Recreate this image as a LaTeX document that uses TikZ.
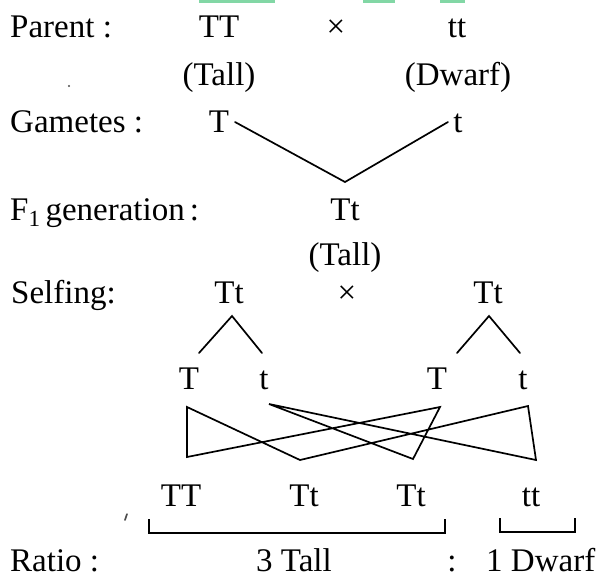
\documentclass[tikz,border=0pt]{standalone}
\usepackage{fontspec}
\setmainfont{Liberation Serif}
\definecolor{mint}{RGB}{130,215,165}
\begin{document}
\begin{tikzpicture}[x=1pt,y=-1pt,
  txt/.style={font=\fontsize{33}{38}\selectfont, inner sep=0pt, anchor=base},
  lbl/.style={txt, anchor=base west},
  link/.style={line width=1.7pt, line join=miter, line cap=round},
  brace/.style={line width=1.3pt},
  speck/.style={fill=black!70, draw=none}]
\useasboundingbox (0,0) rectangle (599,579);

% strip of highlight along the top edge
\fill[mint] (199,0) rectangle (275,3);
\fill[mint] (363,0) rectangle (395,3);
\fill[mint] (440,0) rectangle (465,3);

% parents
\node[lbl] (parent) at (10,37) {Parent :};
\node[txt] (pTT) at (219,37) {TT};
\node[txt] (cross1) at (336,37) {×};
\node[txt] (ptt) at (457,37) {tt};
\node[txt] (ptall) at (219,85) {(Tall)};
\node[txt] (pdwarf) at (458,85) {(Dwarf)};
\fill[speck] (69,86) circle (1.1);

% gametes
\node[lbl] (gam) at (10,132) {Gametes :};
\node[txt] (gT) at (219,132) {T};
\node[txt] (gt) at (458,132) {t};
\coordinate (vL) at (235,122);
\coordinate (vB) at (345,182);
\coordinate (vR) at (448,122);
\draw[link] (vL) -- (vB) -- (vR);

% F1
\node[lbl] (f1) at (10,220) {F\textsubscript{1}\hspace{0.15em}generation\hspace{0.15em}:};
\node[txt] (f1Tt) at (345,220) {Tt};
\node[txt] (f1tall) at (345,265) {(Tall)};

% selfing
\node[lbl] (self) at (11,303) {Selfing:};
\node[txt] (sA) at (229,303) {Tt};
\node[txt] (cross2) at (347,303) {×};
\node[txt] (sB) at (488,303) {Tt};

\coordinate (aTop) at (232,316);
\coordinate (aL) at (199,353);
\coordinate (aR) at (262,353);
\coordinate (bTop) at (489,316);
\coordinate (bL) at (457,353);
\coordinate (bR) at (520,353);
\draw[link] (aL) -- (aTop) -- (aR);
\draw[link] (bL) -- (bTop) -- (bR);

\node[txt] (g1) at (189,389) {T};
\node[txt] (g2) at (264,389) {t};
\node[txt] (g3) at (437,389) {T};
\node[txt] (g4) at (523,389) {t};

% crossing lines between gametes
\coordinate (A) at (187,407);
\coordinate (B) at (187,457);
\coordinate (C) at (300,460);
\coordinate (D) at (269,404);
\coordinate (E) at (440,407);
\coordinate (F) at (413,459);
\coordinate (G) at (528,406);
\coordinate (H) at (536,460);
\draw[link] (A) -- (B) -- (E) -- (F) -- (D) -- (H) -- (G) -- (C) -- cycle;

% offspring
\node[txt] (o1) at (181,506) {TT};
\node[txt] (o2) at (304,506) {Tt};
\node[txt] (o3) at (411,506) {Tt};
\node[txt] (o4) at (531,506) {tt};
\draw[line width=1.6pt, draw=black!70, line cap=round] (127,514) -- (125,520);

\coordinate (t1a) at (149,519);
\coordinate (t1b) at (445,519);
\coordinate (t2a) at (500,518);
\coordinate (t2b) at (575,518);
\draw[brace] (t1a) -- ++(0,14) -| (t1b);
\draw[brace] (t2a) -- ++(0,14) -| (t2b);

% ratio
\node[lbl] (ratio) at (10,571) {Ratio :};
\node[txt] (tall) at (294,571) {3 Tall};
\node[txt] (colon) at (452,571) {:};
\node[lbl] (dwarf) at (486,571) {1 Dwarf};
\end{tikzpicture}
\end{document}
